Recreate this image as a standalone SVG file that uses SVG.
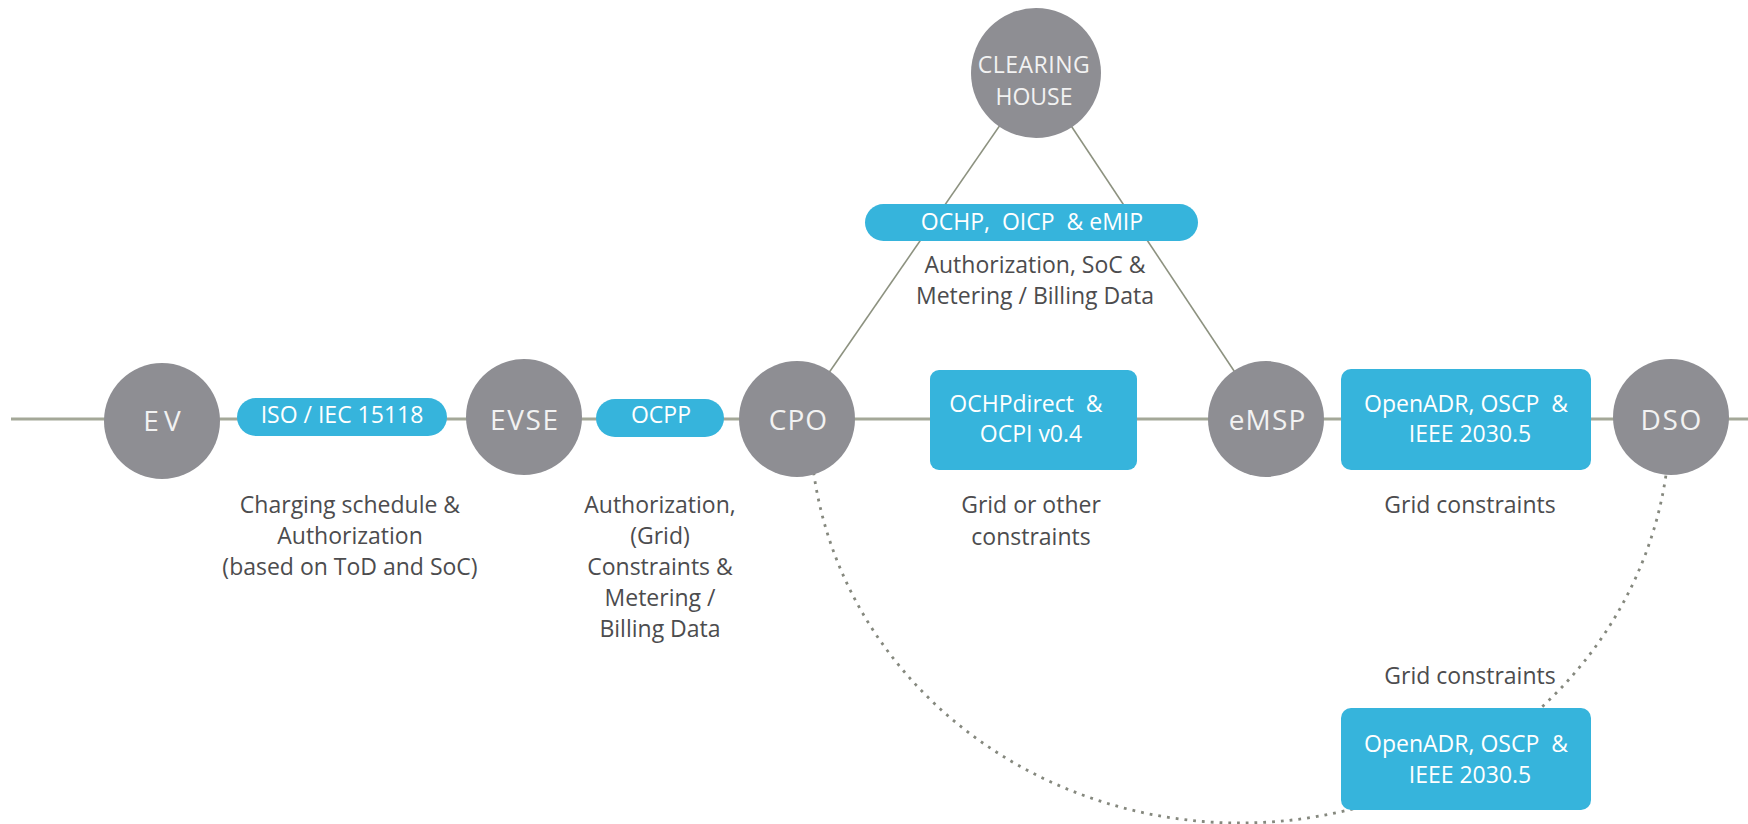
<svg xmlns="http://www.w3.org/2000/svg" width="1748" height="824" viewBox="0 0 1748 824">
  <style>
    .node { fill: #8e8e93; }
    .node-label { font-family: "Open Sans", "Noto Sans", sans-serif; font-size: 28px; fill: #f2f2f2; text-anchor: middle; }
    .ch-label { font-family: "Open Sans", "Noto Sans", sans-serif; font-size: 23px; fill: #f2f2f2; text-anchor: middle; }
    .proto { fill: #36b4dc; }
    .proto-label { font-family: "Open Sans", "Noto Sans", sans-serif; font-size: 23px; fill: #ffffff; text-anchor: middle; }
    .note { font-family: "Open Sans", "Noto Sans", sans-serif; font-size: 23px; fill: #4c4c4e; text-anchor: middle; }
    .bus { stroke: #a4a898; stroke-width: 2.8; fill: none; }
    .link { stroke: #8d9280; stroke-width: 1.6; fill: none; }
    .dotted { stroke: #85887e; stroke-width: 2.8; fill: none; stroke-dasharray: 2.8 6; }
  </style>

  <!-- connectors -->
  <g id="connectors">
    <path class="bus" d="M11,419 H1748"/>
    <path class="link" d="M1036,73 L797,419"/>
    <path class="link" d="M1036,73 L1266,419"/>
    <path class="dotted" d="M810,420 A430,403 0 0 0 1670,420"/>
  </g>

  <!-- protocol pills and boxes -->
  <g id="iso15118">
    <rect class="proto" x="237" y="398" width="210" height="38" rx="19"/>
    <text class="proto-label" x="342" y="423">ISO / IEC 15118</text>
  </g>
  <g id="ocpp">
    <rect class="proto" x="596" y="399" width="128" height="38" rx="19"/>
    <text class="proto-label" x="661" y="423">OCPP</text>
  </g>
  <g id="ochp-oicp-emip">
    <rect class="proto" x="865" y="204" width="333" height="37" rx="18.5"/>
    <text class="proto-label" x="1032" y="230" xml:space="preserve">OCHP,  OICP  &amp; eMIP</text>
  </g>
  <g id="ochpdirect-ocpi">
    <rect class="proto" x="930" y="370" width="207" height="100" rx="9"/>
    <text class="proto-label" x="1026" y="412" xml:space="preserve">OCHPdirect  &amp;</text>
    <text class="proto-label" x="1031" y="442">OCPI v0.4</text>
  </g>
  <g id="openadr-emsp-dso">
    <rect class="proto" x="1341" y="369" width="250" height="101" rx="10"/>
    <text class="proto-label" x="1466" y="412" xml:space="preserve">OpenADR, OSCP  &amp;</text>
    <text class="proto-label" x="1470" y="442">IEEE 2030.5</text>
  </g>
  <g id="openadr-cpo-dso">
    <rect class="proto" x="1341" y="708" width="250" height="102" rx="10"/>
    <text class="proto-label" x="1466" y="752" xml:space="preserve">OpenADR, OSCP  &amp;</text>
    <text class="proto-label" x="1470" y="783">IEEE 2030.5</text>
  </g>

  <!-- actors -->
  <g id="ev">
    <circle class="node" cx="162" cy="421" r="58"/>
    <text class="node-label" x="164.5" y="431" letter-spacing="5">EV</text>
  </g>
  <g id="evse">
    <circle class="node" cx="524" cy="417" r="58"/>
    <text class="node-label" x="524.8" y="430" letter-spacing="1.6">EVSE</text>
  </g>
  <g id="cpo">
    <circle class="node" cx="797" cy="419" r="58"/>
    <text class="node-label" x="798.5" y="430" letter-spacing="1">CPO</text>
  </g>
  <g id="emsp">
    <circle class="node" cx="1266" cy="419" r="58"/>
    <text class="node-label" x="1267.6" y="430" letter-spacing="1.2">eMSP</text>
  </g>
  <g id="dso">
    <circle class="node" cx="1671" cy="417" r="58"/>
    <text class="node-label" x="1671.8" y="430" letter-spacing="1.7">DSO</text>
  </g>
  <g id="clearing-house">
    <circle class="node" cx="1036" cy="73" r="65"/>
    <text class="ch-label" x="1034" y="73" letter-spacing="0.5">CLEARING</text>
    <text class="ch-label" x="1034" y="105">HOUSE</text>
  </g>

  <!-- exchanged data -->
  <g id="notes">
    <text class="note" x="350" y="513">Charging schedule &amp;</text>
    <text class="note" x="350" y="544">Authorization</text>
    <text class="note" x="350" y="575">(based on ToD and SoC)</text>

    <text class="note" x="660" y="513">Authorization,</text>
    <text class="note" x="660" y="544">(Grid)</text>
    <text class="note" x="660" y="575">Constraints &amp;</text>
    <text class="note" x="660" y="606">Metering /</text>
    <text class="note" x="660" y="637">Billing Data</text>

    <text class="note" x="1031" y="513">Grid or other</text>
    <text class="note" x="1031" y="545">constraints</text>

    <text class="note" x="1470" y="513">Grid constraints</text>

    <text class="note" x="1035" y="273">Authorization, SoC &amp;</text>
    <text class="note" x="1035" y="304">Metering / Billing Data</text>

    <text class="note" x="1470" y="684">Grid constraints</text>
  </g>
</svg>
